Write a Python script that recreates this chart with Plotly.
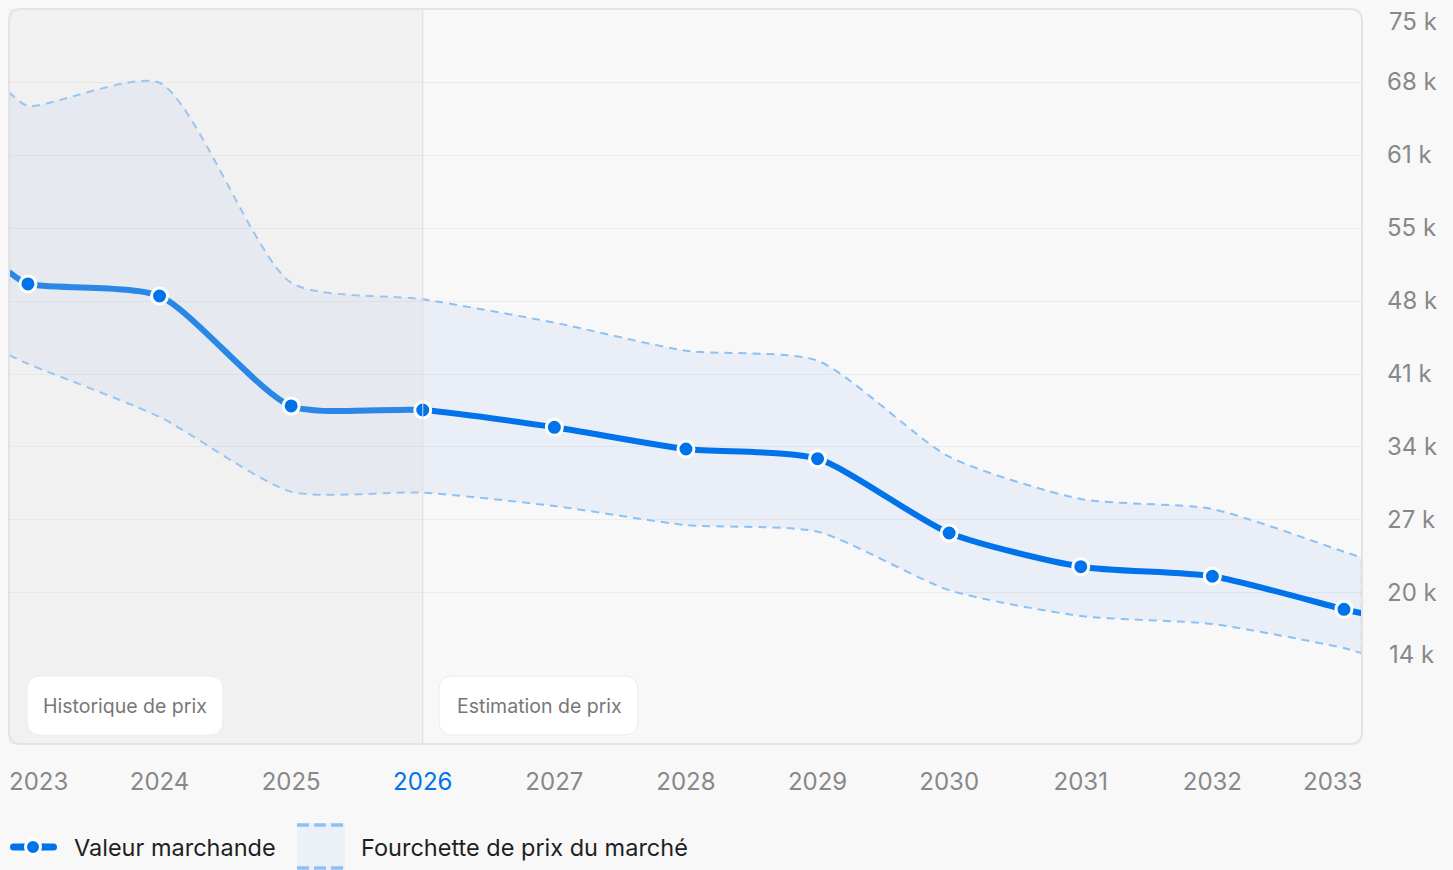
import plotly.graph_objects as go

# ---------------- data (values in thousands) ----------------
years = [2023, 2024, 2025, 2026, 2027, 2028, 2029, 2030, 2031, 2032, 2033]
edge_left = 2022.856          # visible start of the curves (left plot edge)
edge_right = 2033.137         # visible end of the curves (right plot edge)
x_all = [edge_left] + years + [edge_right]

market_value = [50.47, 49.35, 48.22, 37.90, 37.52, 35.90, 33.86, 32.95,
                25.98, 22.82, 21.92, 18.82, 18.45]
range_high = [67.36, 66.05, 68.23, 49.47, 47.91, 45.72, 43.09, 42.15,
              33.14, 29.17, 28.23, 24.22, 23.66]
range_low = [42.68, 41.85, 36.87, 29.86, 29.76, 28.51, 26.73, 26.10,
             20.62, 18.19, 17.44, 15.18, 14.69]

current_year = 2026
y_min, y_max = 6.18, 75.15
y_tick_vals = [13.5, 20.35, 27.2, 34.05, 40.9, 47.75, 54.6, 61.45, 68.3, 75.15]
y_tick_text = ["14 k", "20 k", "27 k", "34 k", "41 k", "48 k", "55 k", "61 k", "68 k", "75 k"]

label_history = "Historique de prix"
label_estimate = "Estimation de prix"
legend_value = "Valeur marchande"
legend_range = "Fourchette de prix du marché"

# ---------------- style ----------------
FONT = "Inter"
BLUE = "#0073ea"
DASH_BLUE = "#8cc1f6"
BAND_FILL = "rgba(120,170,245,0.10)"
BG = "#f8f8f8"
GRID = "#ebebeb"
TICK_GREY = "#888888"
TICK_SIZE = 24
SMOOTH = 0.65

W, H = 1453, 870
ML, MR, MT, MB = 9, 91, 9, 126
PW, PH = W - ML - MR, H - MT - MB


def px(x):
    return (x - ML) / PW


def py(y):
    return (MT + PH - y) / PH


def rrect(x0, y0, x1, y1, r):
    rx, ry = r / PW, r / PH
    return (f"M {x0+rx},{y0} L {x1-rx},{y0} Q {x1},{y0} {x1},{y0+ry} "
            f"L {x1},{y1-ry} Q {x1},{y1} {x1-rx},{y1} L {x0+rx},{y1} "
            f"Q {x0},{y1} {x0},{y1-ry} L {x0},{y0+ry} Q {x0},{y0} {x0+rx},{y0} Z")


fig = go.Figure()

dash_line = dict(color=DASH_BLUE, width=2, dash="8px,6px", shape="spline", smoothing=SMOOTH)

# band lower edge
fig.add_trace(go.Scatter(x=x_all, y=range_low, mode="lines", line=dash_line,
                         hoverinfo="skip", showlegend=False))
# band upper edge filled down to lower edge
fig.add_trace(go.Scatter(x=x_all, y=range_high, mode="lines", line=dash_line,
                         fill="tonexty", fillcolor=BAND_FILL,
                         hoverinfo="skip", showlegend=False))
# closing edges of the band at the plot borders
for i in (0, -1):
    fig.add_trace(go.Scatter(x=[x_all[i], x_all[i]], y=[range_low[i], range_high[i]],
                             mode="lines", line=dict(color=DASH_BLUE, width=2.4, dash="8px,6px"),
                             hoverinfo="skip", showlegend=False, cliponaxis=False))

# market value curve
fig.add_trace(go.Scatter(x=x_all, y=market_value, mode="lines",
                         line=dict(color=BLUE, width=6, shape="spline", smoothing=SMOOTH),
                         hoverinfo="skip", showlegend=False))

# history veil (over the curve, under the markers)
fig.add_trace(go.Scatter(x=[edge_left, current_year, current_year, edge_left],
                         y=[y_min, y_min, y_max, y_max], mode="lines", fill="toself",
                         fillcolor="rgba(215,215,215,0.2)", line=dict(width=0),
                         hoverinfo="skip", showlegend=False))

# markers on yearly values
fig.add_trace(go.Scatter(x=years, y=market_value[1:-1], mode="markers",
                         marker=dict(size=16, color=BLUE, line=dict(color="white", width=3)),
                         showlegend=False, hovertemplate="%{x}: %{y:.1f} k<extra></extra>"))

shapes = []
# divider at current year
shapes.append(dict(type="line", xref="x", yref="paper", x0=current_year, x1=current_year,
                   y0=0, y1=1, line=dict(color="#dddddd", width=1), layer="above"))
# plot border (rounded)
shapes.append(dict(type="path", xref="paper", yref="paper", path=rrect(0, 0, 1, 1, 12),
                   line=dict(color="#e3e3e3", width=2), layer="above"))
# label boxes
for (x0, x1) in ((27, 223), (439, 638)):
    shapes.append(dict(type="path", xref="paper", yref="paper",
                       path=rrect(px(x0), py(735), px(x1), py(676), 14),
                       fillcolor="white", line=dict(color="#ececec", width=1), layer="above"))

# legend icons
ly = py(847)
for (a, b) in ((10, 25), (41, 57)):
    shapes.append(dict(type="path", xref="paper", yref="paper",
                       path=rrect(px(a), py(850.5), px(b), py(843.5), 3.5),
                       fillcolor=BLUE, line=dict(width=0)))
shapes.append(dict(type="line", xref="paper", yref="paper", x0=px(22), x1=px(44), y0=ly, y1=ly,
                   line=dict(color=BLUE, width=7)))
shapes.append(dict(type="circle", xref="paper", yref="paper",
                   x0=px(33 - 7.5), x1=px(33 + 7.5), y0=py(847 + 7.5), y1=py(847 - 7.5),
                   fillcolor=BLUE, line=dict(color="white", width=3)))
shapes.append(dict(type="rect", xref="paper", yref="paper", x0=px(297), x1=px(345),
                   y0=py(870), y1=py(823), fillcolor="#ecf1f8", line=dict(width=0)))
for yy in (825, 868):
    shapes.append(dict(type="line", xref="paper", yref="paper", x0=px(297), x1=px(345),
                       y0=py(yy), y1=py(yy), line=dict(color=DASH_BLUE, width=3.5, dash="12px,5px")))

annotations = [
    dict(text=label_history, xref="paper", yref="paper", x=px(41), y=py(706),
         xanchor="left", yanchor="middle", showarrow=False,
         font=dict(family=FONT, size=19.5, color="#777777")),
    dict(text=label_estimate, xref="paper", yref="paper", x=px(455), y=py(706),
         xanchor="left", yanchor="middle", showarrow=False,
         font=dict(family=FONT, size=19.5, color="#777777")),
    dict(text=legend_value, xref="paper", yref="paper", x=px(72), y=ly,
         xanchor="left", yanchor="middle", showarrow=False,
         font=dict(family=FONT, size=23.5, color="#1f1f1f")),
    dict(text=legend_range, xref="paper", yref="paper", x=px(359), y=ly,
         xanchor="left", yanchor="middle", showarrow=False,
         font=dict(family=FONT, size=23.5, color="#1f1f1f")),
    # first / last year labels kept inside the plot width
    dict(text=str(years[0]), xref="paper", yref="paper", x=0, y=py(781), xshift=-2,
         xanchor="left", yanchor="middle", showarrow=False,
         font=dict(family=FONT, size=TICK_SIZE, color=TICK_GREY)),
    dict(text=str(years[-1]), xref="paper", yref="paper", x=1, y=py(781), xshift=2,
         xanchor="right", yanchor="middle", showarrow=False,
         font=dict(family=FONT, size=TICK_SIZE, color=TICK_GREY)),
    # outermost value labels, kept inside the plot height
    dict(text=y_tick_text[-1], xref="paper", yref="y", x=1, y=y_tick_vals[-1], xshift=25,
         yshift=4, xanchor="left", yanchor="top", showarrow=False,
         font=dict(family=FONT, size=TICK_SIZE, color=TICK_GREY)),
    dict(text=y_tick_text[0], xref="paper", yref="y", x=1, y=y_tick_vals[0], xshift=25,
         yshift=-5, xanchor="left", yanchor="bottom", showarrow=False,
         font=dict(family=FONT, size=TICK_SIZE, color=TICK_GREY)),
]

x_tick_text = [f"<span style='color:{BLUE}'>{y}</span>" if y == current_year else str(y)
               for y in years[1:-1]]

fig.update_layout(
    width=W, height=H,
    margin=dict(l=ML, r=MR, t=MT, b=MB),
    paper_bgcolor=BG, plot_bgcolor=BG,
    font=dict(family=FONT, color=TICK_GREY),
    showlegend=False,
    shapes=shapes,
    annotations=annotations,
    xaxis=dict(range=[edge_left, edge_right], tickvals=years[1:-1], ticktext=x_tick_text,
               showgrid=False, zeroline=False, showline=False, ticks="",
               tickfont=dict(family=FONT, size=TICK_SIZE, color=TICK_GREY), ticklabelstandoff=21,
               fixedrange=True),
    yaxis=dict(range=[y_min, y_max], side="right", tickvals=y_tick_vals[1:-1],
               ticktext=y_tick_text[1:-1], showgrid=True, gridcolor=GRID, gridwidth=1,
               zeroline=False, showline=False, ticks="",
               tickfont=dict(family=FONT, size=TICK_SIZE, color=TICK_GREY), ticklabelstandoff=24,
               fixedrange=True),
)

fig.write_html("out.html", config={"displayModeBar": False},
               post_script="document.body.style.margin='0';")
